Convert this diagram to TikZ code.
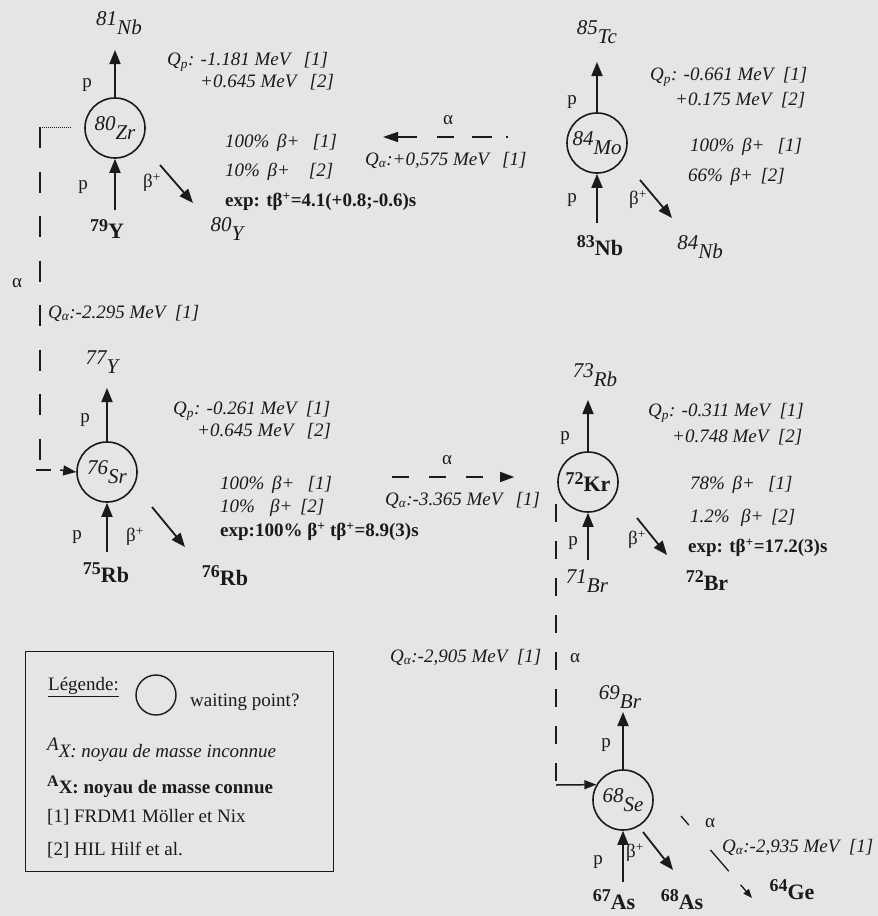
\documentclass[tikz,border=0pt]{standalone}
\usepackage{fontspec}
\setmainfont{Liberation Serif}
\usetikzlibrary{arrows.meta,calc}
\definecolor{paper}{HTML}{E3E6E5}
\definecolor{ink}{HTML}{1A1A1A}
\newcommand{\nucI}[2]{{\fontsize{21}{24}\selectfont\textit{\raisebox{.42em}{#1}#2}}}
\newcommand{\nucK}[2]{{\fontsize{22}{24}\selectfont\textbf{\raisebox{.36em}{\fontsize{18}{18}\selectfont #1}#2}}}
\newcommand{\bpl}{β\textsuperscript{+}}
\newcommand{\gap}{\hspace{.7em}}
\begin{document}
\begin{tikzpicture}[x=1pt,y=-1pt,
  font=\fontsize{19}{22}\selectfont,
  every node/.style={text=ink, inner sep=0pt},
  nuc/.style={circle, draw=ink, line width=1.6pt, minimum size=60pt},
  arr/.style={draw=ink, line width=1.8pt, -{Triangle[length=14pt,width=11pt]}},
  tl/.style={anchor=west},
  adash/.style={draw=ink, line width=1.5pt},
  thinarr/.style={draw=ink, line width=1.5pt, -{Triangle[length=12pt,width=9pt]}}]
\fill[paper] (0,0) rectangle (878,916);
\useasboundingbox (0,0) rectangle (878,916);

% ---------- 80Zr ----------
\node[nuc] (zr) at (115,128) {\nucI{80}{Zr}};
\node (nb81) at (119,23) {\nucI{81}{Nb}};
\node (y79) at (107,229) {\nucK{79}{Y}};
\node (y80) at (228,229) {\nucI{80}{Y}};
\node (zrp1) at (87,85) {p};
\node (zrp2) at (83,187) {p};
\node (zrb) at (152,183) {\bpl};
\node[tl] (zrq1) at (167,62) {\textit{Q\textsubscript{p}: -1.181 MeV\gap[1]}};
\node[tl] (zrq2) at (200,82) {\textit{+0.645 MeV\gap[2]}};
\node[tl] (zrr1) at (225,143) {\textit{100\%\hspace{.4em}β+\gap[1]}};
\node[tl] (zrr2) at (225,172) {\textit{10\%\hspace{.4em}β+\hspace{1em}[2]}};
\node[tl] (zrex) at (225,202) {\textbf{exp: tβ\textsuperscript{+}=4.1(+0.8;-0.6)s}};
\draw[arr, shorten >=27pt] (zr.north) -- (zr.north |- nb81);
\draw[arr, shorten <=19pt] (zr.south |- y79) -- (zr.south);
\draw[arr] ($(zr)+(45,37)$) -- ($(zr)+(78,75)$);

% ---------- 84Mo ----------
\node[nuc] (mo) at (597,143) {\nucI{84}{Mo}};
\node (tc85) at (597,32) {\nucI{85}{Tc}};
\node (nb83) at (600,246) {\nucK{83}{Nb}};
\node (nb84) at (700,247) {\nucI{84}{Nb}};
\node (mop1) at (572,102) {p};
\node (mop2) at (572,200) {p};
\node (mob) at (638,200) {\bpl};
\node[tl] (moq1) at (650,77) {\textit{Q\textsubscript{p}: -0.661 MeV\hspace{.5em}[1]}};
\node[tl] (moq2) at (675,100) {\textit{+0.175 MeV\hspace{.5em}[2]}};
\node[tl] (mor1) at (690,147) {\textit{100\%\hspace{.4em}β+\gap[1]}};
\node[tl] (mor2) at (688,177) {\textit{66\%\hspace{.4em}β+\hspace{.4em}[2]}};
\draw[arr, shorten >=30pt] (mo.north) -- (mo.north |- tc85);
\draw[arr, shorten <=23pt] (mo.south |- nb83) -- (mo.south);
\draw[arr] ($(mo)+(43,37)$) -- ($(mo)+(75,75)$);

% ---------- 76Sr ----------
\node[nuc] (sr) at (107,472) {\nucI{76}{Sr}};
\node (y77) at (103,362) {\nucI{77}{Y}};
\node (rb75) at (106,573) {\nucK{75}{Rb}};
\node (rb76) at (225,576) {\nucK{76}{Rb}};
\node (srp1) at (85,420) {p};
\node (srp2) at (77,537) {p};
\node (srb) at (135,537) {\bpl};
\node[tl] (srq1) at (173,411) {\textit{Q\textsubscript{p}: -0.261 MeV\hspace{.5em}[1]}};
\node[tl] (srq2) at (197,431) {\textit{+0.645 MeV\gap[2]}};
\node[tl] (srr1) at (220,485) {\textit{100\%\hspace{.4em}β+\gap[1]}};
\node[tl] (srr2) at (220,508) {\textit{10\%\hspace{.8em}β+\hspace{.4em}[2]}};
\node[tl] (srex) at (220,532) {\textbf{exp:100\% β\textsuperscript{+} tβ\textsuperscript{+}=8.9(3)s}};
\draw[arr, shorten >=26pt] (sr.north) -- (sr.north |- y77);
\draw[arr, shorten <=21pt] (sr.south |- rb75) -- (sr.south);
\draw[arr] ($(sr)+(45,35)$) -- ($(sr)+(78,75)$);

% ---------- 72Kr ----------
\node[nuc] (kr) at (588,482) {\nucK{72}{Kr}};
\node (rb73) at (595,375) {\nucI{73}{Rb}};
\node (br71) at (587,581) {\nucI{71}{Br}};
\node (br72) at (707,581) {\nucK{72}{Br}};
\node (krp1) at (565,438) {p};
\node (krp2) at (573,543) {p};
\node (krb) at (637,540) {\bpl};
\node[tl] (krq1) at (648,413) {\textit{Q\textsubscript{p}: -0.311 MeV\hspace{.5em}[1]}};
\node[tl] (krq2) at (672,437) {\textit{+0.748 MeV\hspace{.5em}[2]}};
\node[tl] (krr1) at (690,485) {\textit{78\%\hspace{.4em}β+\gap[1]}};
\node[tl] (krr2) at (690,518) {\textit{1.2\%\hspace{.6em}β+\hspace{.4em}[2]}};
\node[tl] (krex) at (688,548) {\textbf{exp: tβ\textsuperscript{+}=17.2(3)s}};
\draw[arr, shorten >=25pt] (kr.north) -- (kr.north |- rb73);
\draw[arr, shorten <=21pt] (kr.south |- br71) -- (kr.south);
\draw[arr] ($(kr)+(49,36)$) -- ($(kr)+(79,73)$);

% ---------- 68Se ----------
\node[nuc] (se) at (623,800) {\nucI{68}{Se}};
\node (br69) at (620,697) {\nucI{69}{Br}};
\node (as67) at (614,900) {\nucK{67}{As}};
\node (as68) at (682,900) {\nucK{68}{As}};
\node (ge64) at (792,890) {\nucK{64}{Ge}};
\node (sep1) at (606,745) {p};
\node (sep2) at (598,862) {p};
\node (seb) at (635,853) {\bpl};
\draw[arr, shorten >=15pt] (se.north) -- (se.north |- br69);
\draw[arr, shorten <=18pt] (se.south |- as67) -- (se.south);
\draw[arr] ($(se)+(20,32)$) -- ($(se)+(50,70)$);
\draw[draw=ink, line width=1.3pt, dash pattern=on 12pt off 33pt on 28pt off 18pt,
      -{Triangle[length=9pt,width=7pt]}] ($(se)+(58,16)$) -- ($(se)+(129,98)$);
\node (a5l) at (710,823) {α};
\node[tl] (a5q) at (722,847) {\textit{Q\textsubscript{α}:-2,935 MeV\hspace{.5em}[1]}};

% ---------- alpha 84Mo -> 80Zr ----------
\coordinate (a1s) at (508,137);
\coordinate (a1e) at (383,137);
\draw[adash, dash pattern=on 2pt off 14pt on 20pt off 18pt on 17pt off 20pt on 30pt,
      -{Triangle[length=15pt,width=10pt]}] (a1s) -- (a1e);
\node (a1l) at (448,120) {α};
\node[tl] (a1q) at (365,160) {\textit{Q\textsubscript{α}:+0,575 MeV\gap[1]}};

% ---------- alpha 80Zr / 76Sr (left) ----------
\coordinate (a2t) at (40,127);
\coordinate (a2b) at (40,460);
\draw[ink, line width=1pt, densely dotted] ($(zr.west)+(-13,-1)$) -- (a2t);
\draw[adash, dash pattern=on 21pt off 23.5pt] (a2t) -- (a2b);
\node (a2l) at (17,283) {α};
\node[tl] (a2q) at (48,313) {\textit{Q\textsubscript{α}:-2.295 MeV\hspace{.5em}[1]}};
\draw[adash] ($(sr.west)+(-40,-2)$) -- ($(sr.west)+(-25,-2)$);
\draw[arr, line width=1.5pt, -{Triangle[length=13pt,width=10pt]}] ($(sr.west)+(-16,-2)$) -- (sr.west);

% ---------- alpha 76Sr -> 72Kr (middle) ----------
\coordinate (a3s) at (392,477);
\draw[adash, dash pattern=on 17pt off 20pt, -{Triangle[length=14pt,width=10pt]}, shorten >=43pt]
  (a3s) -- (a3s -| kr.west);
\node (a3l) at (447,460) {α};
\node[tl] (a3q) at (385,500) {\textit{Q\textsubscript{α}:-3.365 MeV\gap[1]}};

% ---------- alpha 72Kr -> 68Se ----------
\coordinate (a4t) at (556,504);
\coordinate (a4c) at (556,785);
\draw[adash, dash pattern=on 18pt off 19pt] (a4t) -- ($(a4c)+(0,-4)$);
\draw[thinarr] (a4c) -- (se.150);
\node (a4l) at (575,658) {α};
\node[tl] (a4q) at (390,657) {\textit{Q\textsubscript{α}:-2,905 MeV\hspace{.5em}[1]}};

% ---------- Legend ----------
\node[draw=ink, line width=1.4pt, minimum width=308pt, minimum height=220pt,
      anchor=north west] (leg) at (25,651) {};
\node[tl] (legt) at (48,687) {\underline{Légende:}};
\node[circle, draw=ink, line width=1.4pt, minimum size=40pt] (legc) at (156,695) {};
\node[tl] (legw) at (190,702) {waiting point?};
\node[tl] (legi) at (47,750) {\textit{\raisebox{.35em}{A}X: noyau de masse inconnue}};
\node[tl] (legk) at (47,787) {\textbf{\raisebox{.35em}{\fontsize{16}{16}\selectfont A}X: noyau de masse connue}};
\node[tl] (leg1) at (47,817) {[1] FRDM1 Möller et Nix};
\node[tl] (leg2) at (47,850) {[2] HIL Hilf et al.};
\end{tikzpicture}
\end{document}
